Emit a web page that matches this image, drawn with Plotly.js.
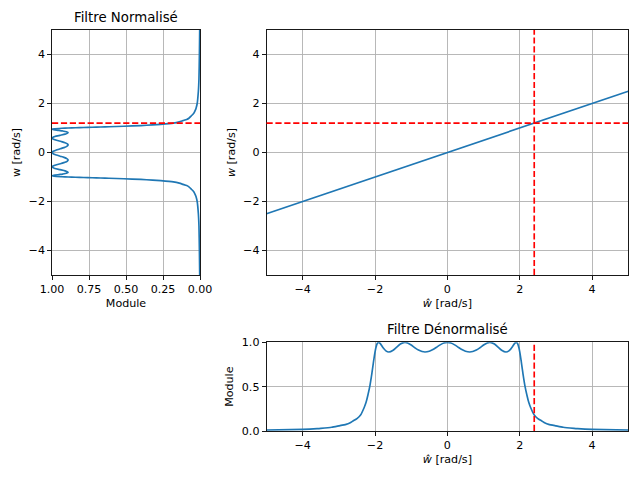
<!DOCTYPE html>
<html><head><meta charset="utf-8">
<script src="https://cdn.plot.ly/plotly-3.0.1.min.js"></script>
<style>html,body{margin:0;padding:0;background:#fff}</style>
</head><body><div id="chart" style="width:640px;height:480px"></div>
<script>
// Normalised filter: w [rad/s] and module
const wNorm = [-5, -4, -3, -2.5, -2, -1.8, -1.75, -1.6, -1.5, -1.4, -1.35, -1.3, -1.25, -1.2, -1.15, -1.125, -1.1, -1.07, -1.05, -1.04, -1.03, -1.02, -1.01, -1, -0.99, -0.97, -0.951, -0.93, -0.9, -0.88, -0.85, -0.809, -0.75, -0.7, -0.65, -0.588, -0.55, -0.5, -0.45, -0.4, -0.35, -0.309, -0.25, -0.2, -0.15, -0.1, -0.05, 0, 0.05, 0.1, 0.15, 0.2, 0.25, 0.309, 0.35, 0.4, 0.45, 0.5, 0.55, 0.588, 0.65, 0.7, 0.75, 0.809, 0.85, 0.88, 0.9, 0.93, 0.951, 0.97, 0.99, 1, 1.01, 1.02, 1.03, 1.04, 1.05, 1.07, 1.1, 1.125, 1.15, 1.2, 1.25, 1.3, 1.35, 1.4, 1.5, 1.6, 1.75, 1.8, 2, 2.5, 3, 4, 5];
const moduleNorm = [0.002, 0.004, 0.007, 0.011, 0.019, 0.027, 0.030, 0.042, 0.058, 0.075, 0.090, 0.115, 0.140, 0.180, 0.265, 0.320, 0.400, 0.515, 0.615, 0.671, 0.729, 0.787, 0.842, 0.891, 0.933, 0.986, 1.0, 0.988, 0.952, 0.929, 0.903, 0.891, 0.911, 0.946, 0.981, 1.0, 0.993, 0.969, 0.939, 0.912, 0.896, 0.891, 0.900, 0.919, 0.945, 0.971, 0.992, 1.0, 0.992, 0.971, 0.945, 0.919, 0.900, 0.891, 0.896, 0.912, 0.939, 0.969, 0.993, 1.0, 0.981, 0.946, 0.911, 0.891, 0.903, 0.929, 0.952, 0.988, 1.0, 0.986, 0.933, 0.891, 0.842, 0.787, 0.729, 0.671, 0.615, 0.515, 0.400, 0.320, 0.265, 0.180, 0.140, 0.115, 0.090, 0.075, 0.058, 0.042, 0.030, 0.027, 0.019, 0.011, 0.007, 0.004, 0.002];

// Frequency transformation line: w-hat -> w
const lineWHat = [-5, 5];
const lineW = [-2.5, 2.5];

// Denormalised filter: w-hat [rad/s] and module
const wHatDen = [-5, -4, -3.6, -3.5, -3.2, -3, -2.8, -2.7, -2.6, -2.5, -2.4, -2.3, -2.25, -2.2, -2.14, -2.1, -2.08, -2.06, -2.04, -2.02, -2, -1.98, -1.94, -1.902, -1.86, -1.8, -1.76, -1.7, -1.618, -1.5, -1.4, -1.3, -1.176, -1.1, -1, -0.9, -0.8, -0.7, -0.618, -0.5, -0.4, -0.3, -0.2, -0.1, 0, 0.1, 0.2, 0.3, 0.4, 0.5, 0.618, 0.7, 0.8, 0.9, 1, 1.1, 1.176, 1.3, 1.4, 1.5, 1.618, 1.7, 1.76, 1.8, 1.86, 1.902, 1.94, 1.98, 2, 2.02, 2.04, 2.06, 2.08, 2.1, 2.14, 2.2, 2.25, 2.3, 2.4, 2.5, 2.6, 2.7, 2.8, 3, 3.2, 3.5, 3.6, 4, 5];
const moduleDen = [0.011, 0.019, 0.027, 0.030, 0.042, 0.058, 0.075, 0.090, 0.115, 0.140, 0.180, 0.265, 0.320, 0.400, 0.515, 0.615, 0.671, 0.729, 0.787, 0.842, 0.891, 0.933, 0.986, 1.0, 0.988, 0.952, 0.929, 0.903, 0.891, 0.911, 0.946, 0.981, 1.0, 0.993, 0.969, 0.939, 0.912, 0.896, 0.891, 0.900, 0.919, 0.945, 0.971, 0.992, 1.0, 0.992, 0.971, 0.945, 0.919, 0.900, 0.891, 0.896, 0.912, 0.939, 0.969, 0.993, 1.0, 0.981, 0.946, 0.911, 0.891, 0.903, 0.929, 0.952, 0.988, 1.0, 0.986, 0.933, 0.891, 0.842, 0.787, 0.729, 0.671, 0.615, 0.515, 0.400, 0.320, 0.265, 0.180, 0.140, 0.115, 0.090, 0.075, 0.058, 0.042, 0.030, 0.027, 0.019, 0.011];

// Cut-off markers
const wCut = 1.2;
const wHatCut = 2.4;

const moduleTicks = [1, 0.75, 0.5, 0.25, 0];
const titles = ['Filtre Normalisé', 'Filtre Dénormalisé'];

const FONT = 'DejaVu Sans, sans-serif';
const BLUE = '#1f77b4';
const lw = 1.67;
const dash = '6.2px,2.7px';

const baseAxis = {
  showline: true, mirror: true, linecolor: '#000', linewidth: 0.9,
  ticks: 'outside', ticklen: 3.9, tickwidth: 0.9, tickcolor: '#000',
  showgrid: true, gridcolor: '#b0b0b0', gridwidth: 0.9, zeroline: false,
  tickfont: {family: FONT, size: 11.1, color: '#000'},
  fixedrange: true
};
function ax(extra) { return Object.assign({}, baseAxis, extra); }
const tfont = {family: FONT, size: 11.1, color: '#000'};

const traces = [
  {x: moduleNorm, y: wNorm, xaxis: 'x', yaxis: 'y', mode: 'lines',
   line: {color: BLUE, width: lw, shape: 'spline', smoothing: 0.6}, hoverinfo: 'skip'},
  {x: lineWHat, y: lineW, xaxis: 'x2', yaxis: 'y2', mode: 'lines',
   line: {color: BLUE, width: lw}, hoverinfo: 'skip'},
  {x: wHatDen, y: moduleDen, xaxis: 'x3', yaxis: 'y3', mode: 'lines',
   line: {color: BLUE, width: lw, shape: 'spline', smoothing: 0.6}, hoverinfo: 'skip'}
];

const H = 480, W = 640;
const layout = {
  width: W, height: H, margin: {l: 0, r: 0, t: 0, b: 0},
  paper_bgcolor: '#fff', plot_bgcolor: '#fff', showlegend: false,
  font: {family: FONT, color: '#000'},
  xaxis: ax({domain: [52/W, 200/W], anchor: 'y', range: [1, 0], tickvals: moduleTicks, tickformat: '.2f',
    title: {text: 'Module', font: tfont, standoff: 4}}),
  yaxis: ax({domain: [1 - 275/H, 1 - 30/H], anchor: 'x', range: [-5, 5], tickvals: [-4, -2, 0, 2, 4],
    title: {text: 'w [rad/s]', font: tfont, standoff: 5}}),
  xaxis2: ax({domain: [266.5/W, 628.3/W], anchor: 'y2', range: [-5, 5], tickvals: [-4, -2, 0, 2, 4],
    title: {text: '<i>ŵ</i> [rad/s]', font: tfont, standoff: 4}}),
  yaxis2: ax({domain: [1 - 275/H, 1 - 30/H], anchor: 'x2', range: [-5, 5], tickvals: [-4, -2, 0, 2, 4],
    title: {text: '<i>w</i> [rad/s]', font: tfont, standoff: 5}}),
  xaxis3: ax({domain: [266.5/W, 628.3/W], anchor: 'y3', range: [-5, 5], tickvals: [-4, -2, 0, 2, 4],
    title: {text: '<i>ŵ</i> [rad/s]', font: tfont, standoff: 4}}),
  yaxis3: ax({domain: [1 - 431/H, 1 - 342.3/H], anchor: 'x3', range: [0, 1], tickvals: [0, 0.5, 1], tickformat: '.1f',
    title: {text: 'Module', font: tfont, standoff: 5}}),
  shapes: [
    {type: 'line', xref: 'x domain', yref: 'y', x0: 0, x1: 1, y0: wCut, y1: wCut,
     line: {color: 'red', width: lw, dash: dash}},
    {type: 'line', xref: 'x2 domain', yref: 'y2', x0: 0, x1: 1, y0: wCut, y1: wCut,
     line: {color: 'red', width: lw, dash: dash}},
    {type: 'line', xref: 'x2', yref: 'y2 domain', x0: wHatCut, x1: wHatCut, y0: 0, y1: 1,
     line: {color: 'red', width: lw, dash: dash}},
    {type: 'line', xref: 'x3', yref: 'y3 domain', x0: wHatCut, x1: wHatCut, y0: 0, y1: 1,
     line: {color: 'red', width: lw, dash: dash}}
  ],
  annotations: [
    {text: titles[0], xref: 'x domain', yref: 'y domain', x: 0.5, y: 1, xanchor: 'center', yanchor: 'bottom',
     yshift: 3, showarrow: false, font: {family: FONT, size: 13.3, color: '#000'}},
    {text: titles[1], xref: 'x3 domain', yref: 'y3 domain', x: 0.5, y: 1, xanchor: 'center', yanchor: 'bottom',
     yshift: 3, showarrow: false, font: {family: FONT, size: 13.3, color: '#000'}}
  ]
};

Plotly.newPlot('chart', traces, layout, {displayModeBar: false, staticPlot: true});
</script>
</body></html>
